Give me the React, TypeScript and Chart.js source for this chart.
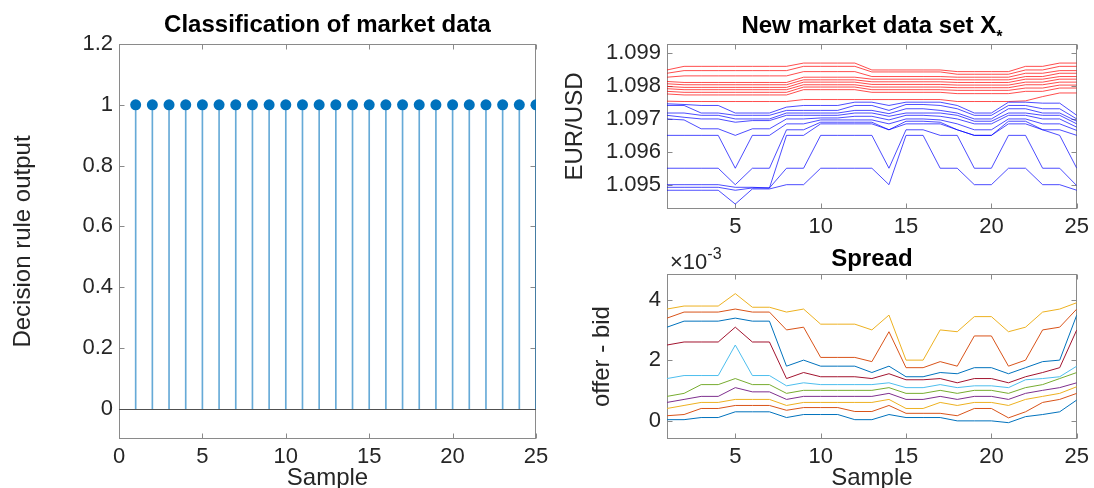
import React, { useEffect, useRef } from "react";
import { Chart, registerables } from "chart.js";

Chart.register(...registerables);

const PAGE_W = 1094;
const PAGE_H = 488;
const FONT = "'Liberation Sans', Arial, Helvetica, sans-serif";
const TEXT = "#262626";
const FRAME = "#8a8a8a";

// ---------------- data ----------------
const SAMPLES = [1, 2, 3, 4, 5, 6, 7, 8, 9, 10, 11, 12, 13, 14, 15, 16, 17, 18, 19, 20, 21, 22, 23, 24, 25];
const DECISION_OUTPUT = [1, 1, 1, 1, 1, 1, 1, 1, 1, 1, 1, 1, 1, 1, 1, 1, 1, 1, 1, 1, 1, 1, 1, 1, 1];

const CLASS_X_TICKS = [0, 5, 10, 15, 20, 25];
const CLASS_Y_TICKS = [0, 0.2, 0.4, 0.6, 0.8, 1, 1.2];
const SAMPLE_TICKS = [5, 10, 15, 20, 25];
const PRICE_TICKS = [1.095, 1.096, 1.097, 1.098, 1.099];
const SPREAD_TICKS = [0, 2, 4]; // in units of 10^-3

// offer (ask) levels, red
const OFFER_10 = [1.09849, 1.0986, 1.0986, 1.0986, 1.0986, 1.0986, 1.0986, 1.0986, 1.0987, 1.0987, 1.0987, 1.0987, 1.09849, 1.09849, 1.09849, 1.09849, 1.09849, 1.09844, 1.09844, 1.09844, 1.09844, 1.0986, 1.0986, 1.0987, 1.0987];
const OFFER_9 = [1.09839, 1.09847, 1.09847, 1.09847, 1.09847, 1.09847, 1.09847, 1.09847, 1.0986, 1.0986, 1.0986, 1.0986, 1.09843, 1.09843, 1.09843, 1.09843, 1.09843, 1.09836, 1.09836, 1.09836, 1.09836, 1.09849, 1.09849, 1.0986, 1.0986];
const OFFER_8 = [1.09827, 1.09831, 1.09831, 1.09831, 1.09831, 1.09831, 1.09831, 1.09831, 1.09844, 1.09844, 1.09844, 1.09844, 1.09829, 1.09829, 1.09829, 1.09829, 1.09829, 1.09827, 1.09827, 1.09827, 1.09827, 1.09839, 1.09839, 1.09847, 1.09847];
const OFFER_7 = [1.09814, 1.09811, 1.09811, 1.09811, 1.09811, 1.09811, 1.09811, 1.09811, 1.09827, 1.09827, 1.09827, 1.09827, 1.09821, 1.09821, 1.09821, 1.09821, 1.09821, 1.09819, 1.09819, 1.09819, 1.09819, 1.09829, 1.09829, 1.09839, 1.09839];
const OFFER_6 = [1.09807, 1.09804, 1.09804, 1.09804, 1.09804, 1.09804, 1.09804, 1.09804, 1.09819, 1.09819, 1.09819, 1.09819, 1.09813, 1.09813, 1.09813, 1.09813, 1.09813, 1.09811, 1.09811, 1.09811, 1.09811, 1.09821, 1.09821, 1.09829, 1.09829];
const OFFER_5 = [1.09799, 1.09796, 1.09796, 1.09796, 1.09796, 1.09796, 1.09796, 1.09796, 1.09812, 1.09812, 1.09812, 1.09812, 1.09805, 1.09805, 1.09805, 1.09805, 1.09805, 1.09803, 1.09803, 1.09803, 1.09803, 1.09812, 1.09812, 1.09821, 1.09821];
const OFFER_4 = [1.09792, 1.09789, 1.09789, 1.09789, 1.09789, 1.09789, 1.09789, 1.09789, 1.09804, 1.09804, 1.09804, 1.09804, 1.09797, 1.09797, 1.09797, 1.09797, 1.09797, 1.09795, 1.09795, 1.09795, 1.09795, 1.09804, 1.09804, 1.09812, 1.09812];
const OFFER_3 = [1.09784, 1.09781, 1.09781, 1.09781, 1.09781, 1.09781, 1.09781, 1.09781, 1.09797, 1.09797, 1.09797, 1.09797, 1.09789, 1.09789, 1.09789, 1.09789, 1.09789, 1.09787, 1.09787, 1.09787, 1.09787, 1.09794, 1.09794, 1.09803, 1.09803];
const OFFER_2 = [1.09776, 1.09773, 1.09773, 1.09773, 1.09773, 1.09773, 1.09773, 1.09773, 1.09789, 1.09789, 1.09789, 1.09789, 1.09781, 1.09781, 1.09781, 1.09781, 1.09781, 1.09777, 1.09777, 1.09777, 1.09777, 1.09784, 1.09784, 1.09794, 1.09794];
const OFFER_1 = [1.09754, 1.09753, 1.09753, 1.09753, 1.09753, 1.09753, 1.09753, 1.09753, 1.09759, 1.09759, 1.09759, 1.09759, 1.09759, 1.09759, 1.09759, 1.09759, 1.09759, 1.09753, 1.09753, 1.09753, 1.09753, 1.09755, 1.09768, 1.09779, 1.09779];

// bid levels, blue
const BID_1 = [1.09746, 1.09744, 1.09741, 1.09741, 1.09718, 1.09718, 1.09718, 1.09736, 1.09741, 1.09741, 1.09741, 1.09751, 1.09751, 1.09741, 1.09751, 1.09751, 1.09751, 1.09741, 1.09718, 1.09718, 1.09751, 1.09751, 1.09748, 1.09748, 1.09711];
const BID_2 = [1.09741, 1.09741, 1.09718, 1.09718, 1.09711, 1.09711, 1.09711, 1.09726, 1.09726, 1.09726, 1.09726, 1.09741, 1.09741, 1.09726, 1.09744, 1.09744, 1.09741, 1.09731, 1.09711, 1.09711, 1.09741, 1.09741, 1.09731, 1.09731, 1.097];
const BID_3 = [1.09718, 1.09718, 1.09711, 1.09711, 1.097, 1.097, 1.097, 1.09718, 1.09718, 1.09718, 1.09718, 1.09726, 1.09726, 1.09716, 1.09731, 1.09731, 1.09726, 1.09718, 1.097, 1.097, 1.09731, 1.09731, 1.09718, 1.09718, 1.09693];
const BID_4 = [1.09711, 1.09705, 1.097, 1.097, 1.0969, 1.09695, 1.09695, 1.09711, 1.09711, 1.09711, 1.09711, 1.09718, 1.09718, 1.09708, 1.09718, 1.09718, 1.09718, 1.09711, 1.09693, 1.09693, 1.09718, 1.09718, 1.09711, 1.09711, 1.09685];
const BID_5 = [1.097, 1.09697, 1.0967, 1.0967, 1.0965, 1.0967, 1.0967, 1.097, 1.097, 1.09703, 1.09703, 1.09708, 1.09708, 1.09697, 1.09711, 1.09711, 1.09708, 1.097, 1.09685, 1.09685, 1.09711, 1.09711, 1.097, 1.097, 1.09675];
const BID_6 = [1.0965, 1.0965, 1.0965, 1.0965, 1.0955, 1.0965, 1.0965, 1.09685, 1.09685, 1.09697, 1.09697, 1.09697, 1.09697, 1.09685, 1.097, 1.097, 1.09697, 1.09685, 1.09667, 1.09667, 1.097, 1.097, 1.09685, 1.09685, 1.09665];
const BID_7 = [1.0955, 1.0955, 1.0955, 1.0955, 1.095, 1.0955, 1.0955, 1.09667, 1.09667, 1.0969, 1.0969, 1.0969, 1.0969, 1.09667, 1.09693, 1.09693, 1.0969, 1.09667, 1.0965, 1.0965, 1.09693, 1.09693, 1.09667, 1.09667, 1.0965];
const BID_8 = [1.095, 1.095, 1.095, 1.095, 1.09492, 1.09492, 1.0949, 1.0965, 1.0965, 1.09685, 1.09685, 1.09685, 1.09685, 1.09667, 1.09685, 1.09685, 1.09685, 1.09667, 1.0965, 1.0965, 1.09685, 1.09685, 1.09667, 1.0965, 1.0955];
const BID_9 = [1.09492, 1.09492, 1.09492, 1.09492, 1.09483, 1.0949, 1.0949, 1.0955, 1.0955, 1.0965, 1.0965, 1.0965, 1.0965, 1.0955, 1.09667, 1.09667, 1.0965, 1.0965, 1.0955, 1.0955, 1.0965, 1.0965, 1.0955, 1.0955, 1.09497];
const BID_10 = [1.09483, 1.09483, 1.09483, 1.09483, 1.09441, 1.09487, 1.09487, 1.095, 1.095, 1.0955, 1.0955, 1.0955, 1.0955, 1.095, 1.0965, 1.0965, 1.0955, 1.0955, 1.095, 1.095, 1.0955, 1.0955, 1.095, 1.095, 1.09483];

// spread (offer - bid) per level, in units of 10^-3
const SPREAD_1 = [0.04, 0.04, 0.11, 0.11, 0.3, 0.3, 0.3, 0.11, 0.21, 0.21, 0.21, 0.04, 0.04, 0.21, 0.11, 0.11, 0.11, 0.0, 0.0, 0.0, -0.06, 0.14, 0.21, 0.3, 0.69];
const SPREAD_2 = [0.17, 0.21, 0.41, 0.41, 0.51, 0.51, 0.51, 0.35, 0.44, 0.44, 0.44, 0.31, 0.31, 0.51, 0.25, 0.25, 0.25, 0.17, 0.41, 0.41, 0.1, 0.3, 0.61, 0.71, 0.91];
const SPREAD_3 = [0.41, 0.51, 0.61, 0.61, 0.71, 0.71, 0.71, 0.51, 0.61, 0.61, 0.61, 0.61, 0.61, 0.71, 0.41, 0.41, 0.61, 0.51, 0.61, 0.61, 0.51, 0.71, 0.81, 0.91, 1.13];
const SPREAD_4 = [0.61, 0.71, 0.81, 0.81, 1.1, 0.96, 0.96, 0.71, 0.81, 0.81, 0.81, 0.81, 0.81, 0.91, 0.71, 0.71, 0.81, 0.71, 0.81, 0.81, 0.71, 0.91, 1.01, 1.1, 1.26];
const SPREAD_5 = [0.81, 0.91, 1.2, 1.2, 1.4, 1.2, 1.2, 0.91, 1.01, 1.01, 1.01, 1.01, 1.01, 1.1, 0.91, 0.91, 1.01, 0.91, 1.01, 1.01, 0.91, 1.1, 1.2, 1.4, 1.6];
const SPREAD_6 = [1.4, 1.5, 1.5, 1.5, 2.51, 1.5, 1.5, 1.16, 1.26, 1.2, 1.2, 1.2, 1.2, 1.26, 1.1, 1.1, 1.2, 1.1, 1.16, 1.16, 1.1, 1.36, 1.4, 1.46, 1.81];
const SPREAD_7 = [2.51, 2.61, 2.61, 2.61, 3.1, 2.61, 2.61, 1.4, 1.6, 1.46, 1.46, 1.46, 1.4, 1.56, 1.36, 1.36, 1.4, 1.26, 1.4, 1.4, 1.26, 1.46, 1.6, 1.76, 3.01];
const SPREAD_8 = [3.1, 3.3, 3.3, 3.3, 3.4, 3.3, 3.3, 1.81, 2.01, 1.81, 1.81, 1.81, 1.6, 1.81, 1.46, 1.46, 1.6, 1.56, 1.76, 1.76, 1.56, 1.76, 1.96, 2.01, 3.5];
const SPREAD_9 = [3.4, 3.6, 3.6, 3.6, 3.7, 3.6, 3.6, 3.01, 3.1, 2.1, 2.1, 2.1, 1.96, 2.95, 1.76, 1.76, 1.96, 1.81, 2.81, 2.81, 1.81, 2.01, 3.01, 3.1, 3.7];
const SPREAD_10 = [3.7, 3.8, 3.8, 3.8, 4.21, 3.76, 3.76, 3.6, 3.7, 3.2, 3.2, 3.2, 3.01, 3.5, 2.01, 2.01, 3.01, 2.95, 3.45, 3.45, 2.95, 3.1, 3.6, 3.7, 3.91];

const OFFERS = [OFFER_1, OFFER_2, OFFER_3, OFFER_4, OFFER_5, OFFER_6, OFFER_7, OFFER_8, OFFER_9, OFFER_10];
const BIDS = [BID_1, BID_2, BID_3, BID_4, BID_5, BID_6, BID_7, BID_8, BID_9, BID_10];
const SPREADS = [SPREAD_1, SPREAD_2, SPREAD_3, SPREAD_4, SPREAD_5, SPREAD_6, SPREAD_7, SPREAD_8, SPREAD_9, SPREAD_10];

const MATLAB_COLORS = ["#0072BD", "#D95319", "#EDB120", "#7E2F8E", "#77AC30", "#4DBEEE", "#A2142F"];

// ---------------- layout ----------------
type Area = { left: number; right: number; top: number; bottom: number };
const LEFT_AREA: Area = { left: 119, right: 536, top: 44, bottom: 439 };
const PRICE_AREA: Area = { left: 667, right: 1083, top: 44, bottom: 209 };
const SPREAD_AREA: Area = { left: 667, right: 1083, top: 274, bottom: 439 };

const Y_AXIS_W = 70;
const X_AXIS_H = 40;

function padFor(a: Area) {
  return { left: a.left - Y_AXIS_W, right: PAGE_W - a.right, top: a.top, bottom: PAGE_H - a.bottom - X_AXIS_H };
}

function axisScale(min: number, max: number, ticks: number[], fmt: (v: number) => string, isX: boolean) {
  return {
    type: "linear",
    min,
    max,
    offset: false,
    grid: { display: false, drawTicks: false },
    border: { display: false },
    afterBuildTicks: (s: any) => {
      s.ticks = ticks.map((v) => ({ value: v }));
    },
    afterFit: (s: any) => {
      if (isX) s.height = X_AXIS_H;
      else s.width = Y_AXIS_W;
    },
    ticks: {
      color: TEXT,
      font: { family: FONT, size: 22 },
      padding: isX ? 5 : 6,
      maxRotation: 0,
      minRotation: 0,
      autoSkip: false,
      callback: (v: any) => fmt(Number(v)),
    },
  };
}

function drawFrame(chart: any) {
  const { ctx, chartArea: a } = chart;
  const xs = chart.scales.x;
  const ys = chart.scales.y;
  const L = Math.round(a.left) + 0.5;
  const R = Math.round(a.right) - 0.5;
  const T = Math.round(a.top) + 0.5;
  const B = Math.round(a.bottom) - 0.5;
  const tl = 5;
  ctx.save();
  ctx.strokeStyle = FRAME;
  ctx.lineWidth = 1;
  ctx.strokeRect(L, T, R - L, B - T);
  ctx.beginPath();
  xs.ticks.forEach((t: any) => {
    const p = Math.round(xs.getPixelForValue(t.value)) + 0.5;
    ctx.moveTo(p, B);
    ctx.lineTo(p, B - tl);
    ctx.moveTo(p, T);
    ctx.lineTo(p, T + tl);
  });
  ys.ticks.forEach((t: any) => {
    const p = Math.round(ys.getPixelForValue(t.value)) + 0.5;
    ctx.moveTo(L, p);
    ctx.lineTo(L + tl, p);
    ctx.moveTo(R, p);
    ctx.lineTo(R - tl, p);
  });
  ctx.stroke();
  ctx.restore();
}

function drawText(
  ctx: CanvasRenderingContext2D,
  s: string,
  x: number,
  y: number,
  size: number,
  opt: { bold?: boolean; align?: CanvasTextAlign; rotate?: boolean; color?: string } = {}
) {
  ctx.save();
  ctx.font = `${opt.bold ? "bold " : ""}${size}px ${FONT}`;
  ctx.fillStyle = opt.color ?? TEXT;
  ctx.textAlign = opt.align ?? "center";
  ctx.textBaseline = "alphabetic";
  ctx.translate(x, y);
  if (opt.rotate) ctx.rotate(-Math.PI / 2);
  ctx.fillText(s, 0, 0);
  ctx.restore();
}

function seriesLine(values: number[], color: string) {
  return {
    type: "line",
    data: SAMPLES.map((x, i) => ({ x, y: values[i] })),
    borderColor: color,
    borderWidth: 1,
    pointRadius: 0,
    tension: 0,
    fill: false,
  };
}

const baseOptions = (area: Area) => ({
  responsive: false,
  animation: false,
  events: [],
  layout: { padding: padFor(area) },
  plugins: { legend: { display: false }, tooltip: { enabled: false }, title: { display: false } },
});

function buildClassification(canvas: HTMLCanvasElement) {
  const pts = SAMPLES.map((x, i) => ({ x, y: DECISION_OUTPUT[i] }));
  return new Chart(canvas, {
    type: "line",
    data: {
      datasets: [
        {
          type: "line",
          data: pts,
          showLine: false,
          pointRadius: 5.5,
          pointBackgroundColor: "#0072BD",
          pointBorderColor: "#0072BD",
          pointBorderWidth: 0,
        },
        {
          type: "bar",
          data: pts,
          backgroundColor: "rgba(0,114,189,0.6)",
          borderWidth: 0,
          barThickness: 1,
        },
      ],
    } as any,
    options: {
      ...baseOptions(LEFT_AREA),
      scales: {
        x: axisScale(0, 25, CLASS_X_TICKS, (v) => String(v), true),
        y: axisScale(-0.1, 1.2, CLASS_Y_TICKS, (v) => String(v), false),
      },
    } as any,
    plugins: [
      {
        id: "classFrame",
        beforeDatasetsDraw(chart: any) {
          drawFrame(chart);
          const { ctx, chartArea: a } = chart;
          const y0 = Math.round(chart.scales.y.getPixelForValue(0)) + 0.5;
          ctx.save();
          ctx.strokeStyle = "#505050";
          ctx.lineWidth = 1;
          ctx.beginPath();
          ctx.moveTo(a.left, y0);
          ctx.lineTo(a.right, y0);
          ctx.stroke();
          ctx.restore();
        },
        afterDraw(chart: any) {
          const { ctx, chartArea: a } = chart;
          const cx = (a.left + a.right) / 2;
          drawText(ctx, "Classification of market data", cx, 32, 24, { bold: true, color: "#000" });
          drawText(ctx, "Decision rule output", 30, (a.top + a.bottom) / 2, 24, { rotate: true });
          drawText(ctx, "Sample", cx, 485, 24);
        },
      },
    ],
  });
}

function buildPrices(canvas: HTMLCanvasElement) {
  return new Chart(canvas, {
    type: "line",
    data: {
      datasets: [
        ...BIDS.map((b) => seriesLine(b, "rgba(0,0,255,0.7)")),
        ...OFFERS.map((o) => seriesLine(o, "rgba(255,0,0,0.7)")),
      ],
    } as any,
    options: {
      ...baseOptions(PRICE_AREA),
      scales: {
        x: axisScale(1, 25, SAMPLE_TICKS, (v) => String(v), true),
        y: axisScale(1.09426, 1.09928, PRICE_TICKS, (v) => v.toFixed(3), false),
      },
    } as any,
    plugins: [
      {
        id: "priceFrame",
        beforeDatasetsDraw(chart: any) {
          drawFrame(chart);
        },
        afterDraw(chart: any) {
          const { ctx, chartArea: a } = chart;
          const cx = (a.left + a.right) / 2;
          ctx.save();
          ctx.font = `bold 24px ${FONT}`;
          const main = "New market data set X";
          const wMain = ctx.measureText(main).width;
          ctx.font = `bold 16px ${FONT}`;
          const wStar = ctx.measureText("*").width;
          ctx.restore();
          const x0 = cx - (wMain + wStar) / 2;
          drawText(ctx, main, x0, 33, 24, { bold: true, align: "left", color: "#000" });
          drawText(ctx, "*", x0 + wMain, 42, 16, { bold: true, align: "left", color: "#000" });
          drawText(ctx, "EUR/USD", 582, (a.top + a.bottom) / 2, 24, { rotate: true });
        },
      },
    ],
  });
}

function buildSpread(canvas: HTMLCanvasElement) {
  return new Chart(canvas, {
    type: "line",
    data: {
      datasets: SPREADS.map((s, i) => seriesLine(s, MATLAB_COLORS[i % MATLAB_COLORS.length])),
    } as any,
    options: {
      ...baseOptions(SPREAD_AREA),
      scales: {
        x: axisScale(1, 25, SAMPLE_TICKS, (v) => String(v), true),
        y: axisScale(-0.6, 4.86, SPREAD_TICKS, (v) => String(v), false),
      },
    } as any,
    plugins: [
      {
        id: "spreadFrame",
        beforeDatasetsDraw(chart: any) {
          drawFrame(chart);
        },
        afterDraw(chart: any) {
          const { ctx, chartArea: a } = chart;
          const cx = (a.left + a.right) / 2;
          drawText(ctx, "Spread", cx, 266, 24, { bold: true, color: "#000" });
          drawText(ctx, "offer - bid", 609, (a.top + a.bottom) / 2, 24, { rotate: true });
          drawText(ctx, "Sample", cx, 485, 24);
          ctx.save();
          ctx.font = `22px ${FONT}`;
          const w = ctx.measureText("\u00d710").width;
          ctx.restore();
          drawText(ctx, "\u00d710", a.left + 3, 269, 22, { align: "left" });
          drawText(ctx, "-3", a.left + 3 + w, 259, 16, { align: "left" });
        },
      },
    ],
  });
}

function ChartLayer({ build }: { build: (c: HTMLCanvasElement) => Chart }) {
  const ref = useRef<HTMLCanvasElement>(null);
  useEffect(() => {
    if (!ref.current) return;
    const chart = build(ref.current);
    return () => chart.destroy();
  }, [build]);
  return (
    <canvas
      ref={ref}
      width={PAGE_W}
      height={PAGE_H}
      style={{ position: "absolute", left: 0, top: 0, width: PAGE_W, height: PAGE_H }}
    />
  );
}

export default function App() {
  return (
    <div style={{ position: "absolute", left: 0, top: 0, width: PAGE_W, height: PAGE_H, background: "#fff", overflow: "hidden" }}>
      <ChartLayer build={buildClassification} />
      <ChartLayer build={buildPrices} />
      <ChartLayer build={buildSpread} />
    </div>
  );
}
